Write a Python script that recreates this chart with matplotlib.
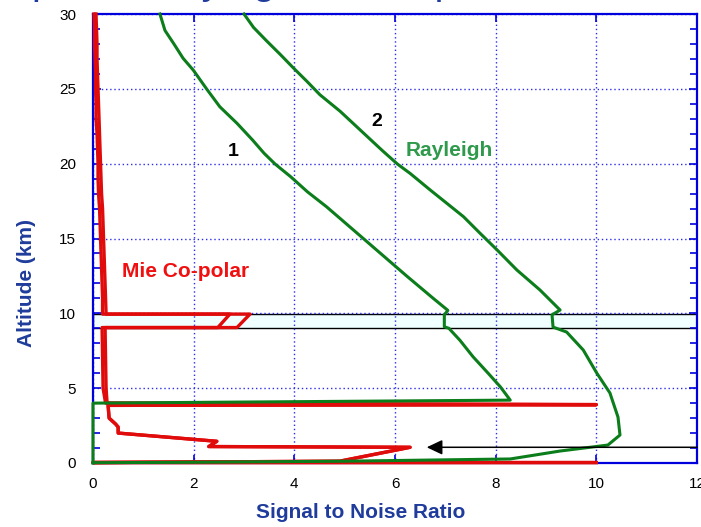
import matplotlib.pyplot as plt

plt.rcParams['font.family'] = ['Liberation Sans', 'DejaVu Sans']

# --- donnees ---
# Rayleigh, courbe 1
alt_ray1 = [30.0, 28.9, 28.04, 27.04, 26.26, 24.98, 23.8, 22.7, 21.58, 20.69, 19.97, 19.12, 18.12,
            17.12, 15.0, 12.5, 11.0, 10.2, 9.9, 9.1, 9.0, 8.2, 7.1, 6.0, 5.1, 4.2, 4.0, 0.0, 0.0]
snr_ray1 = [1.33, 1.43, 1.60, 1.79, 1.99, 2.26, 2.52, 2.86, 3.17, 3.40, 3.62, 3.93, 4.26,
            4.64, 5.37, 6.23, 6.76, 7.05, 6.98, 6.98, 7.07, 7.29, 7.55, 7.85, 8.09, 8.29, 0.0, 0.0, 0.0]

# Rayleigh, courbe 2
alt_ray2 = [30.0, 29.1, 28.2, 27.3, 26.4, 25.5, 24.6, 23.5, 20.9, 19.97, 19.35, 18.24, 17.35, 16.46,
            15.35, 14.23, 12.9, 11.56, 10.22, 9.9, 9.08, 8.75, 7.55, 6.0, 4.68, 3.07, 1.87, 1.2,
            0.8, 0.27, 0.12, 0.05, 0.02]
snr_ray2 = [3.0, 3.19, 3.45, 3.72, 3.98, 4.25, 4.51, 4.91, 5.74, 6.05, 6.30, 6.70, 7.03, 7.36,
            7.69, 8.03, 8.42, 8.88, 9.28, 9.12, 9.14, 9.41, 9.74, 10.01, 10.27, 10.43, 10.47, 10.23,
            9.28, 8.29, 5.0, 2.0, 0.0]

# Mie co-polaire (deux canaux)
alt_mie = [30, 29, 28, 27, 26, 25, 24, 23, 22, 21, 20, 19, 18, 17, 16, 15, 14, 13, 12, 11, 9.95,
           9.95, 9.05, 9.05, 5.0, 4.0, 3.9, 3.85, 3.0, 2.6, 2.4, 2.0, 1.45, 1.1, 1.05, 0.12,
           0.03, 0.03]
snr_mie1 = [0.02, 0.03, 0.03, 0.04, 0.05, 0.05, 0.06, 0.06, 0.08, 0.09, 0.10, 0.10, 0.11, 0.13,
            0.14, 0.15, 0.16, 0.17, 0.18, 0.19, 0.19,
            2.72, 2.48, 0.18, 0.20, 0.25, 10.0, 0.30, 0.32, 0.45, 0.50, 0.50, 2.46, 2.30, 6.30, 4.90,
            0.0, 10.0]
snr_mie2 = [0.06, 0.07, 0.08, 0.08, 0.09, 0.10, 0.11, 0.12, 0.13, 0.14, 0.15, 0.16, 0.17, 0.19,
            0.20, 0.21, 0.22, 0.23, 0.24, 0.25, 0.26,
            3.12, 2.86, 0.24, 0.26, 0.28, 10.0, 0.30, 0.32, 0.45, 0.50, 0.50, 2.46, 2.30, 6.30, 4.90,
            0.0, 10.0]

# couche nuageuse et fleche
nuage = (9.0, 9.95)
fleche_y = 1.05
fleche_x = (12.0, 6.63)

bleu = '#0000dd'
bleu_txt = '#1f3c9c'
vert = '#0b7d1b'
rouge = '#e00b0b'

fig = plt.figure(figsize=(7.01, 5.27), dpi=100)
ax = fig.add_axes([93/701, 64/527, 604/701, 449/527])

ax.axhspan(nuage[0], nuage[1], facecolor='#f0ffff', edgecolor='black', linewidth=1.0, zorder=1)

ax.plot(snr_mie1, alt_mie, color=rouge, lw=2.4, zorder=3, clip_on=False)
ax.plot(snr_mie2, alt_mie, color=rouge, lw=2.4, zorder=3, clip_on=False)
ax.plot(snr_ray1, alt_ray1, color=vert, lw=2.2, zorder=4, clip_on=False)
ax.plot(snr_ray2, alt_ray2, color=vert, lw=2.2, zorder=4, clip_on=False)

ax.annotate('', xy=(fleche_x[1], fleche_y), xytext=(fleche_x[0], fleche_y),
            arrowprops=dict(arrowstyle='-|>,head_length=0.95,head_width=0.45',
                            color='black', lw=1.1, shrinkA=0, shrinkB=0), zorder=5)

ax.text(2.78, 20.8, '1', fontsize=14, fontweight='bold', ha='center', va='center')
ax.text(5.64, 22.8, '2', fontsize=14, fontweight='bold', ha='center', va='center')
ax.text(7.07, 20.9, 'Rayleigh', color='#2f9a4c', fontsize=15, fontweight='bold',
        ha='center', va='center')
ax.text(1.84, 12.8, 'Mie Co-polar', color='#f01010', fontsize=15, fontweight='bold',
        ha='center', va='center')

ax.set_xlim(0, 12)
ax.set_ylim(0, 30)
ax.set_xticks([0, 2, 4, 6, 8, 10, 12])
ax.set_yticks([0, 5, 10, 15, 20, 25, 30])
ax.set_yticks(range(0, 31), minor=True)
ax.tick_params(which='both', direction='in', top=True, right=True, color=bleu)
ax.tick_params(axis='x', which='major', length=6, width=1.2, pad=10, labelsize=11)
ax.tick_params(axis='y', which='major', length=6, width=1.2, pad=12, labelsize=11)
ax.tick_params(axis='y', which='minor', length=5, width=1.2)
ax.grid(True, which='major', linestyle=(0, (1, 2)), color='#2b2bf0', linewidth=1.0)
for s in ax.spines.values():
    s.set_color(bleu)
    s.set_linewidth(1.6)

ax.set_xlabel('Signal to Noise Ratio', color=bleu_txt, fontsize=15, fontweight='bold')
ax.set_ylabel('Altitude (km)', color=bleu_txt, fontsize=15, fontweight='bold')
ax.xaxis.set_label_coords(0.444, -0.09)
ax.yaxis.set_label_coords(-0.095, 0.40)

# titre coupe en haut de la figure : seules les jambages restent visibles
fig.text(-71/701, 1 + 6/527, 'Example of Varying Cloud Optical Thickness', color=bleu_txt,
         fontsize=29, ha='left', va='baseline')

fig.savefig('out.png', dpi=100)
